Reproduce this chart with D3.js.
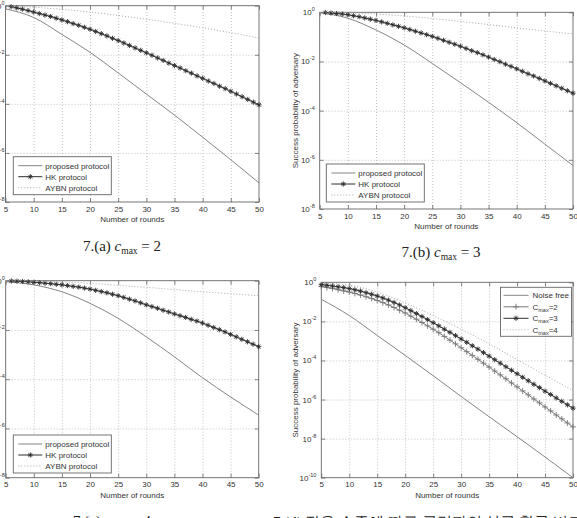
<!DOCTYPE html>
<html>
<head>
<meta charset="utf-8">
<title></title>
<script src="https://cdn.jsdelivr.net/npm/d3@7"></script>
<style>
  body { margin:0; background:#fff; }
  svg { display:block; font-family:"Liberation Sans", Arial, sans-serif; }
  .grid line { stroke:#b4b4b4; stroke-dasharray:1,2; stroke-width:0.8; }
  .grid path { display:none; }
  .ax path { display:none; }
  .ax line { stroke:#666; stroke-width:0.8; }
  .ax text { font-size:8px; fill:#333; font-family:"Liberation Sans", Arial, sans-serif; }
  .cap { font-family:"Liberation Serif", "DejaVu Serif", serif; font-size:15px; fill:#222; }
</style>
</head>
<body>
<div id="fig"></div>
<script>
// x categories (rounds)
var xTickValues = [5, 10, 15, 20, 25, 30, 35, 40, 45, 50];
var roundsEvery5 = [5, 10, 15, 20, 25, 30, 35, 40, 45, 50];
var roundsFrom6 = [6, 7, 8, 9, 10, 11, 12, 13, 14, 15, 16, 17, 18, 19, 20, 21, 22, 23, 24, 25, 26, 27, 28,
  29, 30, 31, 32, 33, 34, 35, 36, 37, 38, 39, 40, 41, 42, 43, 44, 45, 46, 47, 48, 49, 50];
var roundsFrom5 = [5, 6, 7, 8, 9, 10, 11, 12, 13, 14, 15, 16, 17, 18, 19, 20, 21, 22, 23, 24, 25, 26, 27, 28,
  29, 30, 31, 32, 33, 34, 35, 36, 37, 38, 39, 40, 41, 42, 43, 44, 45, 46, 47, 48, 49, 50];

// values are log10(success probability)
// (a) c_max = 2
var proposedA = [-0.13, -0.48, -1.17, -1.90, -2.74, -3.60, -4.46, -5.36, -6.28, -7.22];
var hkA = [-0.04, -0.09, -0.14, -0.20, -0.26, -0.32, -0.38, -0.44, -0.51, -0.58,
  -0.65, -0.73, -0.80, -0.88, -0.96, -1.05, -1.14, -1.23, -1.33, -1.42,
  -1.52, -1.62, -1.72, -1.82, -1.92, -2.02, -2.13, -2.23, -2.34, -2.44,
  -2.54, -2.65, -2.75, -2.86, -2.96, -3.07, -3.17, -3.28, -3.38, -3.49,
  -3.60, -3.71, -3.82, -3.93, -4.04];
var aybnA = [0, -0.06, -0.15, -0.26, -0.40, -0.55, -0.72, -0.90, -1.10, -1.32];

// (b) c_max = 3
var proposedB = [-0.02, -0.24, -0.72, -1.33, -2.08, -2.86, -3.66, -4.49, -5.36, -6.23];
var hkB = [-0.01, -0.03, -0.05, -0.07, -0.10, -0.14, -0.18, -0.23, -0.28, -0.33,
  -0.39, -0.45, -0.51, -0.57, -0.63, -0.70, -0.77, -0.84, -0.91, -0.98,
  -1.06, -1.14, -1.22, -1.30, -1.38, -1.47, -1.56, -1.64, -1.73, -1.82,
  -1.92, -2.01, -2.11, -2.20, -2.30, -2.40, -2.50, -2.59, -2.69, -2.79,
  -2.89, -2.99, -3.09, -3.19, -3.29];
var aybnB = [0, -0.02, -0.07, -0.15, -0.25, -0.37, -0.50, -0.63, -0.76, -0.88];

// (c) c_max = 4
var proposedC = [-0.04, -0.17, -0.45, -0.92, -1.53, -2.28, -3.09, -3.94, -4.72, -5.46];
var hkC = [-0.01, -0.02, -0.03, -0.045, -0.06, -0.08, -0.10, -0.12, -0.145, -0.17,
  -0.20, -0.23, -0.26, -0.30, -0.34, -0.39, -0.44, -0.49, -0.55, -0.61,
  -0.68, -0.75, -0.82, -0.90, -0.98, -1.05, -1.12, -1.20, -1.27, -1.35,
  -1.42, -1.49, -1.57, -1.64, -1.72, -1.81, -1.90, -1.99, -2.08, -2.18,
  -2.28, -2.38, -2.48, -2.58, -2.68];
var aybnC = [0, -0.01, -0.05, -0.11, -0.19, -0.27, -0.36, -0.45, -0.53, -0.61];

// (d) noise comparison
var noiseFreeD = [-0.87, -1.70, -2.72, -3.74, -4.78, -5.84, -6.88, -7.90, -8.94, -10.0];
var cmax2D = [-0.22, -0.27, -0.32, -0.38, -0.44, -0.50, -0.57, -0.65, -0.74, -0.83, -0.93,
  -1.04, -1.16, -1.29, -1.43, -1.57, -1.73, -1.89, -2.06, -2.23, -2.40,
  -2.58, -2.77, -2.96, -3.15, -3.35, -3.55, -3.74, -3.94, -4.14, -4.34,
  -4.54, -4.74, -4.94, -5.15, -5.35, -5.56, -5.76, -5.97, -6.17, -6.38,
  -6.58, -6.79, -6.99, -7.20, -7.40];
var cmax3D = [-0.12, -0.15, -0.19, -0.23, -0.27, -0.32, -0.38, -0.45, -0.53, -0.61, -0.70,
  -0.80, -0.91, -1.03, -1.16, -1.30, -1.45, -1.60, -1.75, -1.91, -2.07,
  -2.23, -2.40, -2.56, -2.73, -2.90, -3.07, -3.25, -3.42, -3.60, -3.78,
  -3.96, -4.14, -4.32, -4.50, -4.68, -4.86, -5.04, -5.22, -5.39, -5.57,
  -5.74, -5.92, -6.09, -6.27, -6.44];
var cmax4D = [-0.03, -0.15, -0.50, -1.05, -1.70, -2.40, -3.15, -3.95, -4.75, -5.55];

var yExpsABC = [0, -2, -4, -6, -8];
var yExpsD = [0, -2, -4, -6, -8, -10];
var protocolNames = ["proposed protocol", "HK protocol", "AYBN protocol"];

var styles = {
  proposed: { color: "#858585", width: 1, dash: null, marker: null },
  hk: { color: "#2e2e2e", width: 1, dash: null, marker: "star" },
  aybn: { color: "#a8a8a8", width: 1, dash: "1,2", marker: null },
  plus: { color: "#777", width: 1, dash: null, marker: "plus" }
};

var W = 577, H = 518;
var svg = d3.select("#fig").append("svg").attr("width", W).attr("height", H);

function markerPath(type, r) {
  if (type == "star") {
    var d = r * 0.7;
    return "M" + (-r) + ",0L" + r + ",0M0," + (-r) + "L0," + r +
      "M" + (-d) + "," + (-d) + "L" + d + "," + d + "M" + (-d) + "," + d + "L" + d + "," + (-d);
  }
  return "M" + (-r) + ",0L" + r + ",0M0," + (-r) + "L0," + r;
}

function drawPanel(p) {
  var g = svg.append("g");
  var w = p.right - p.left, h = p.bottom - p.top;
  var x = d3.scaleLinear().domain([5, 50]).range([p.left, p.right]);
  var y = d3.scaleLog().domain([Math.pow(10, p.minExp), 1]).range([p.bottom, p.top]);
  var yTickVals = p.yExps.map(function(e){ return Math.pow(10, e); });

  g.append("rect").attr("x", p.left).attr("y", p.top).attr("width", w).attr("height", h).attr("fill", "#fff");

  // dotted grid
  g.append("g").attr("class", "grid").attr("transform", "translate(0," + p.bottom + ")")
    .call(d3.axisBottom(x).tickValues(xTickValues.slice(1, -1)).tickSize(-h).tickFormat(""));
  g.append("g").attr("class", "grid").attr("transform", "translate(" + p.left + ",0)")
    .call(d3.axisLeft(y).tickValues(yTickVals.slice(1, -1)).tickSize(-w).tickFormat(""));

  // ticks on all four sides, pointing inwards
  g.append("g").attr("class", "ax").attr("transform", "translate(0," + p.bottom + ")")
    .call(d3.axisBottom(x).tickValues(xTickValues).tickSizeInner(-4).tickSizeOuter(0).tickPadding(4));
  g.append("g").attr("class", "ax").attr("transform", "translate(0," + p.top + ")")
    .call(d3.axisTop(x).tickValues(xTickValues).tickSizeInner(-4).tickSizeOuter(0).tickFormat(""));
  g.append("g").attr("class", "ax").attr("transform", "translate(" + p.left + ",0)")
    .call(d3.axisLeft(y).tickValues(yTickVals).tickSizeInner(-4).tickSizeOuter(0).tickFormat(""));
  g.append("g").attr("class", "ax").attr("transform", "translate(" + p.right + ",0)")
    .call(d3.axisRight(y).tickValues(yTickVals).tickSizeInner(-4).tickSizeOuter(0).tickFormat(""));

  // 10^k labels (the left column of the figure is cropped, as in the source)
  p.yExps.forEach(function(e) {
    var t = g.append("text").attr("x", p.left - p.labelGap).attr("y", y(Math.pow(10, e)) + 3)
      .attr("text-anchor", "end").attr("font-size", 8).attr("fill", "#333");
    t.append("tspan").text("10");
    t.append("tspan").attr("dy", -4).attr("font-size", 5.5).text(String(e));
  });

  g.append("rect").attr("x", p.left).attr("y", p.top).attr("width", w).attr("height", h)
    .attr("fill", "none").attr("stroke", "#666").attr("stroke-width", 0.9);

  g.append("text").attr("x", (p.left + p.right) / 2).attr("y", p.bottom + 20)
    .attr("text-anchor", "middle").attr("font-size", 8).attr("fill", "#333").text("Number of rounds");
  if (p.yTitle) {
    g.append("text").attr("transform", "translate(" + p.yTitleX + "," + ((p.top + p.bottom) / 2) + ") rotate(-90)")
      .attr("text-anchor", "middle").attr("font-size", 8).attr("fill", "#333")
      .text("Success probability of adversary");
  }

  var line = d3.line().curve(d3.curveMonotoneX);
  p.series.forEach(function(s) {
    var pts = s.vals.map(function(v, i){ return [x(s.xs[i]), y(Math.pow(10, v))]; });
    g.append("path").attr("d", line(pts)).attr("fill", "none")
      .attr("stroke", s.style.color).attr("stroke-width", s.style.width)
      .attr("stroke-dasharray", s.style.dash);
    if (s.style.marker) {
      g.selectAll(null).data(pts).enter().append("path")
        .attr("transform", function(d){ return "translate(" + d[0] + "," + d[1] + ")"; })
        .attr("d", markerPath(s.style.marker, s.style.marker == "star" ? 2.6 : 3))
        .attr("stroke", s.style.color).attr("stroke-width", 0.9).attr("fill", "none");
    }
  });

  // legend
  var L = p.legend;
  var lg = g.append("g");
  lg.append("rect").attr("x", L.x).attr("y", L.y).attr("width", L.w).attr("height", L.h)
    .attr("fill", "#fff").attr("stroke", "#666").attr("stroke-width", 0.9);
  L.entries.forEach(function(en, i) {
    var yy = L.y + L.first + i * L.step;
    lg.append("line").attr("x1", L.x + L.lx0).attr("x2", L.x + L.lx1).attr("y1", yy).attr("y2", yy)
      .attr("stroke", en.style.color).attr("stroke-width", en.style.width).attr("stroke-dasharray", en.style.dash);
    if (en.style.marker) {
      lg.append("path").attr("transform", "translate(" + (L.x + (L.lx0 + L.lx1) / 2) + "," + yy + ")")
        .attr("d", markerPath(en.style.marker, en.style.marker == "star" ? 2.6 : 3))
        .attr("stroke", en.style.color).attr("stroke-width", 0.9).attr("fill", "none");
    }
    var t = lg.append("text").attr("x", L.x + L.tx).attr("y", yy + 3)
      .attr("font-size", 8).attr("fill", "#333");
    if (en.sub) {
      t.append("tspan").text("C");
      t.append("tspan").attr("dy", 2).attr("font-size", 5.5).text("max");
      t.append("tspan").attr("dy", -2).text(en.label);
    } else {
      t.text(en.label);
    }
  });
}

function protocolLegend(lx, ly) {
  return { x: lx, y: ly, w: 98, h: 38, first: 9, step: 11, lx0: 5, lx1: 29, tx: 32,
    entries: [
      { label: protocolNames[0], style: styles.proposed },
      { label: protocolNames[1], style: styles.hk },
      { label: protocolNames[2], style: styles.aybn }
    ] };
}

drawPanel({ left: 5.5, right: 259, top: 5.7, bottom: 202, minExp: -8, yExps: yExpsABC, labelGap: 1,
  series: [
    { xs: roundsEvery5, vals: proposedA, style: styles.proposed },
    { xs: roundsFrom6, vals: hkA, style: styles.hk },
    { xs: roundsEvery5, vals: aybnA, style: styles.aybn }
  ],
  legend: protocolLegend(13.3, 156.7) });

drawPanel({ left: 319.7, right: 573, top: 12.3, bottom: 209, minExp: -8, yExps: yExpsABC, labelGap: 5,
  yTitle: true, yTitleX: 298,
  series: [
    { xs: roundsEvery5, vals: proposedB, style: styles.proposed },
    { xs: roundsFrom6, vals: hkB, style: styles.hk },
    { xs: roundsEvery5, vals: aybnB, style: styles.aybn }
  ],
  legend: protocolLegend(326.3, 164) });

drawPanel({ left: 5.7, right: 258.7, top: 280.7, bottom: 477.7, minExp: -8, yExps: yExpsABC, labelGap: 1,
  series: [
    { xs: roundsEvery5, vals: proposedC, style: styles.proposed },
    { xs: roundsFrom6, vals: hkC, style: styles.hk },
    { xs: roundsEvery5, vals: aybnC, style: styles.aybn }
  ],
  legend: protocolLegend(13.3, 435) });

drawPanel({ left: 321.3, right: 573, top: 282.3, bottom: 477.7, minExp: -10, yExps: yExpsD, labelGap: 5,
  yTitle: true, yTitleX: 298,
  series: [
    { xs: roundsEvery5, vals: noiseFreeD, style: styles.proposed },
    { xs: roundsFrom5, vals: cmax2D, style: styles.plus },
    { xs: roundsFrom5, vals: cmax3D, style: styles.hk },
    { xs: roundsEvery5, vals: cmax4D, style: styles.aybn }
  ],
  legend: { x: 500.5, y: 287.3, w: 71, h: 49, first: 8, step: 11.5, lx0: 3, lx1: 28, tx: 32,
    entries: [
      { label: "Noise free", style: styles.proposed },
      { label: "=2", sub: true, style: styles.plus },
      { label: "=3", sub: true, style: styles.hk },
      { label: "=4", sub: true, style: styles.aybn }
    ] } });

// captions
function caption(cx, by, tag, val) {
  var t = svg.append("text").attr("class", "cap").attr("x", cx).attr("y", by).attr("text-anchor", "middle");
  t.append("tspan").text("7.(" + tag + ")  ");
  t.append("tspan").attr("font-style", "italic").text("c");
  t.append("tspan").attr("dy", 3).attr("font-size", 9.5).text("max");
  t.append("tspan").attr("dy", -3).text(" = " + val);
}
caption(122, 251, "a", 2);
caption(441, 257, "b", 3);
caption(112, 525.5, "c", 4);
svg.append("text").attr("class", "cap").attr("x", 273).attr("y", 527).attr("font-size", 14)
  .text("7.(d) 잡음 수준에 따른 공격자의 성공 확률 비교");
</script>
</body>
</html>
